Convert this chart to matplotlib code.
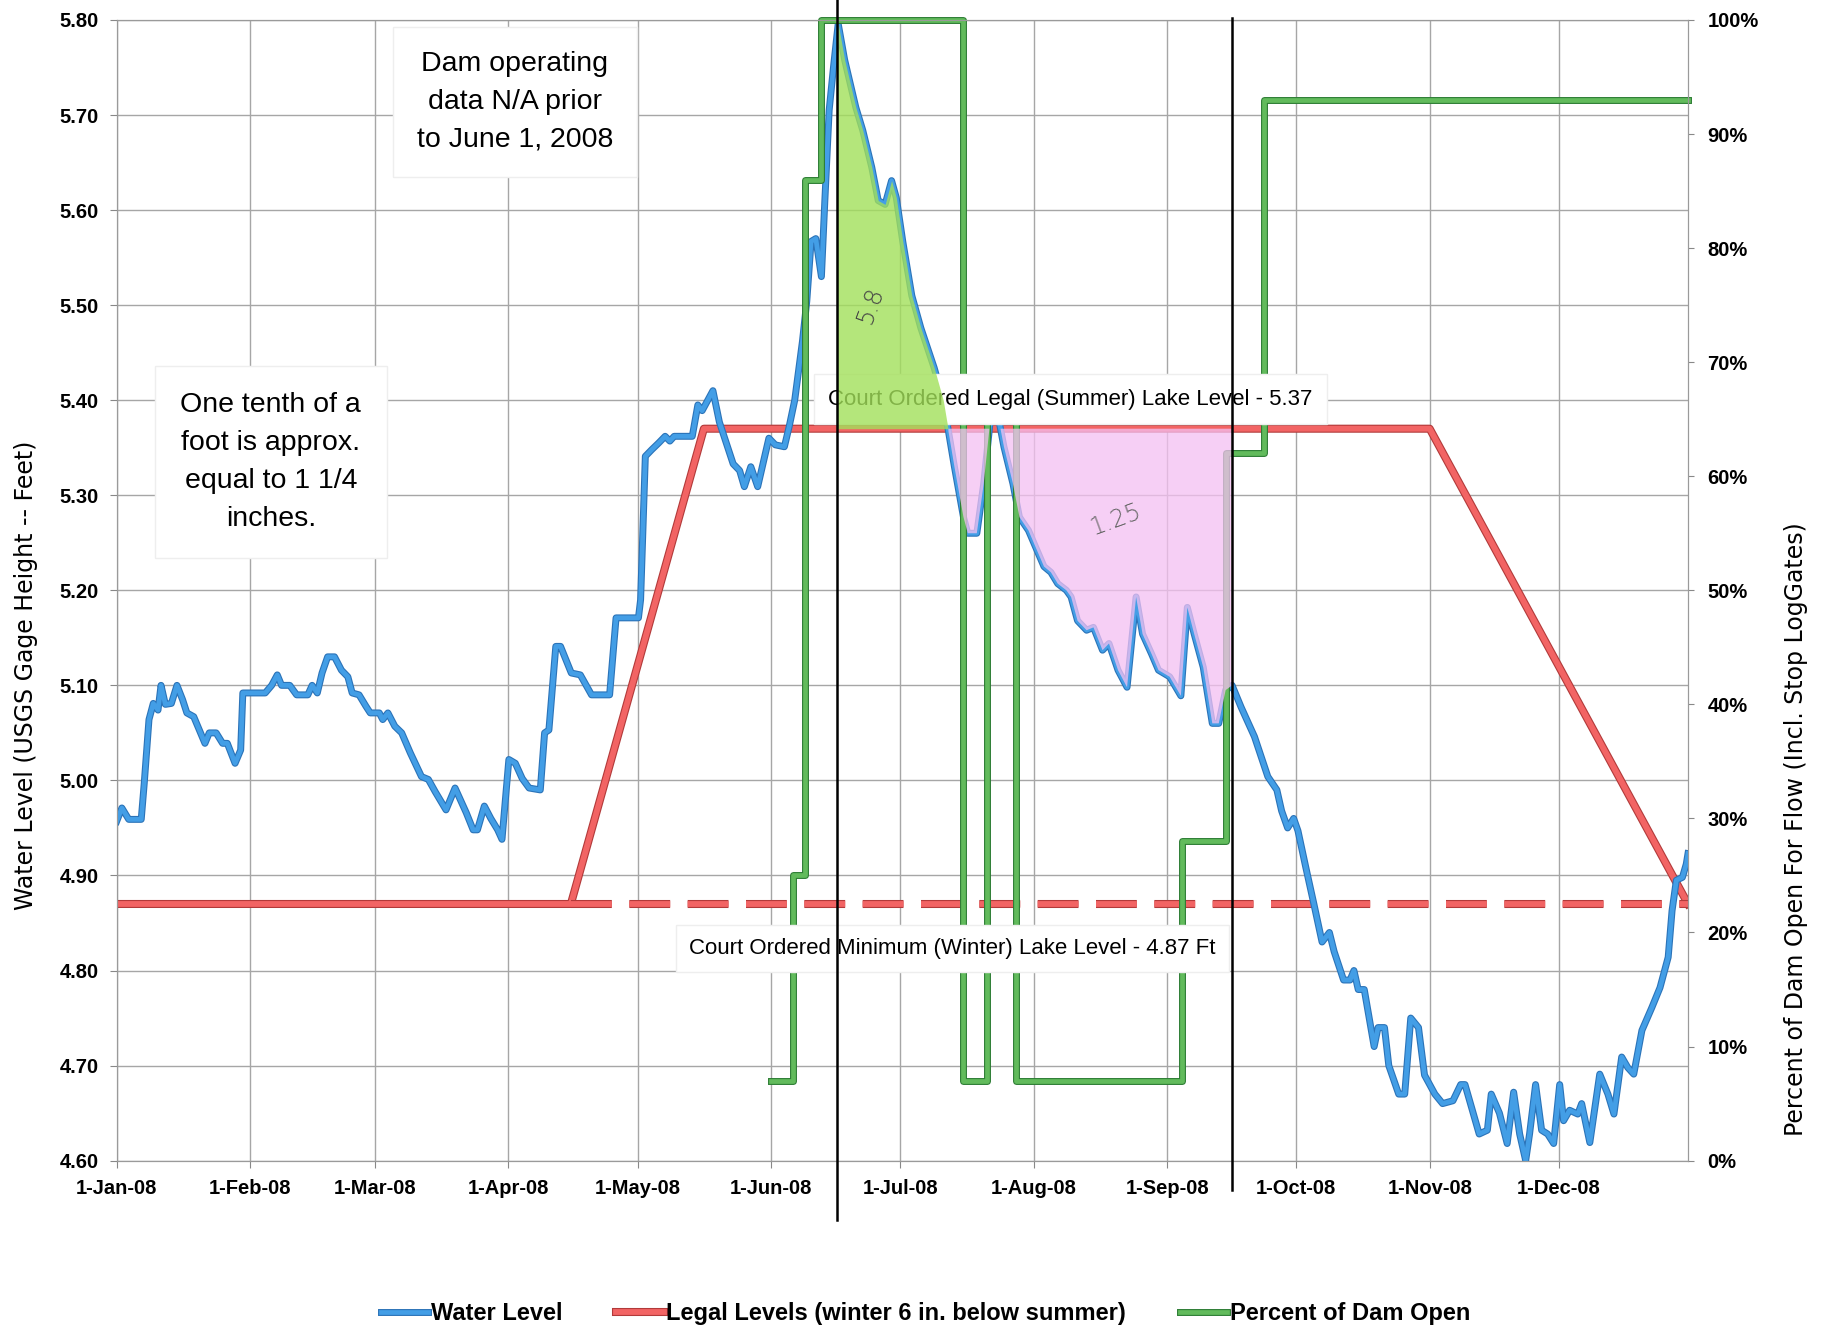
import numpy as np
import pandas as pd
import matplotlib
matplotlib.use('Agg')
import matplotlib.pyplot as plt
import matplotlib.dates as mdates
import matplotlib.patheffects as pe
from matplotlib.font_manager import FontProperties

# lake level 2008, day of year (0 = 1-Jan) and USGS gage height in feet
level_day = [0, 1.2, 2.8, 5.7, 6.4, 7.5, 8.5, 9.6, 10.3, 11.3, 12.7, 14.0, 15.3, 16.3, 17.9,
             20.5, 21.5, 23.1, 24.6, 25.7, 27.5, 28.8, 29.3, 34.5, 36.0, 37.3, 38.3, 40.2,
             41.8, 44.4, 45.4, 46.6, 47.7, 49.0, 50.6, 52.2, 53.7, 54.7, 56.3, 57.9, 58.9,
             61.0, 61.8, 63.0, 64.6, 66.2, 68.2, 70.8, 72.4, 74.0, 76.5, 78.6, 81.2, 82.8,
             83.8, 85.4, 86.9, 88.5, 89.5, 91.1, 92.6, 94.2, 95.8, 98.4, 99.4, 100.4, 102.0,
             103.1, 105.6, 107.7, 110.3, 114.5, 116.0, 121.2, 121.7, 122.8, 124.3, 125.9,
             127.4, 128.5, 129.5, 133.7, 135.0, 136.0, 138.5, 140.0, 143.2, 144.7, 145.8,
             147.3, 148.9, 151.5, 153.0, 155.1, 156.2, 157.5, 159.3, 160.3, 161.3, 162.4,
             163.7, 164.5, 165.5, 166.5, 167.6, 169.1, 171.7, 173.3, 175.4, 176.9, 178.5,
             180.0, 181.1, 182.6, 184.7, 186.8, 189.9, 192.0, 193.3, 194.6, 196.7, 197.7,
             199.8, 201.4, 203.0, 204.5, 206.1, 208.2, 209.7, 211.8, 213.4, 215.4, 217.0,
             218.6, 220.6, 221.7, 223.2, 225.3, 226.9, 229.0, 230.5, 232.6, 234.7, 236.8,
             238.3, 240.4, 242.0, 244.6, 247.2, 248.7, 250.3, 252.4, 254.5, 256.0, 257.6,
             259.1, 261.2, 264.3, 267.4, 269.5, 270.6, 272.0, 273.4, 274.4, 276.2, 278.1,
             280.0, 281.7, 282.8, 285.0, 286.5, 287.4, 288.4, 289.8, 292.1, 293.0, 294.5,
             295.5, 297.8, 299.2, 300.6, 302.4, 303.8, 306.2, 308.0, 310.4, 312.2, 313.2,
             316.5, 318.4, 319.3, 321.2, 323.0, 324.5, 325.9, 327.3, 328.2, 329.6, 331.0,
             332.4, 333.8, 335.2, 336.1, 337.5, 339.4, 340.3, 342.2, 344.5, 346.4, 347.8,
             349.6, 351.0, 352.4, 354.3, 356.6, 358.5, 360.4, 361.3, 362.3, 363.7, 364.6, 365.0]
level_ft = [4.957, 4.971, 4.959, 4.959, 4.997, 5.064, 5.081, 5.074, 5.100, 5.080, 5.081, 5.100,
            5.085, 5.071, 5.067, 5.039, 5.050, 5.050, 5.039, 5.039, 5.018, 5.032, 5.092, 5.092,
            5.100, 5.111, 5.100, 5.100, 5.090, 5.090, 5.100, 5.092, 5.113, 5.130, 5.130, 5.116,
            5.109, 5.092, 5.090, 5.078, 5.071, 5.071, 5.064, 5.071, 5.057, 5.050, 5.029, 5.004,
            5.001, 4.988, 4.969, 4.992, 4.966, 4.948, 4.948, 4.973, 4.960, 4.948, 4.938, 5.022,
            5.018, 5.002, 4.992, 4.990, 5.050, 5.053, 5.141, 5.141, 5.113, 5.111, 5.090, 5.090,
            5.171, 5.171, 5.190, 5.341, 5.348, 5.355, 5.362, 5.357, 5.362, 5.362, 5.395, 5.389,
            5.410, 5.377, 5.333, 5.326, 5.309, 5.330, 5.309, 5.360, 5.353, 5.351, 5.372, 5.400,
            5.462, 5.504, 5.567, 5.570, 5.530, 5.610, 5.705, 5.750, 5.796, 5.758, 5.708, 5.684,
            5.645, 5.610, 5.606, 5.631, 5.613, 5.567, 5.510, 5.476, 5.434, 5.400, 5.365, 5.330,
            5.277, 5.260, 5.260, 5.312, 5.382, 5.389, 5.351, 5.312, 5.277, 5.263, 5.246, 5.225,
            5.219, 5.207, 5.200, 5.193, 5.168, 5.158, 5.161, 5.137, 5.144, 5.116, 5.098, 5.193,
            5.154, 5.133, 5.116, 5.109, 5.089, 5.182, 5.154, 5.119, 5.060, 5.060, 5.095, 5.100,
            5.077, 5.046, 5.004, 4.990, 4.968, 4.950, 4.960, 4.947, 4.909, 4.870, 4.830, 4.840,
            4.820, 4.790, 4.790, 4.800, 4.780, 4.780, 4.720, 4.740, 4.740, 4.700, 4.670, 4.670,
            4.750, 4.740, 4.690, 4.670, 4.660, 4.663, 4.680, 4.680, 4.628, 4.632, 4.670, 4.650,
            4.618, 4.672, 4.628, 4.600, 4.628, 4.680, 4.632, 4.628, 4.618, 4.680, 4.642, 4.653,
            4.649, 4.660, 4.619, 4.691, 4.670, 4.649, 4.709, 4.698, 4.691, 4.737, 4.761, 4.782,
            4.814, 4.863, 4.895, 4.898, 4.912, 4.923]

# legal levels (summer 5.37, winter 4.87)
legal_day = [0, 105.5, 136.4, 305, 365]
legal_ft = [4.87, 4.87, 5.37, 5.37, 4.87]
winter_day = [105.5, 365]
winter_ft = [4.87, 4.87]

# percent of dam open (no data before 1-Jun)
dam_day = [152, 157, 159.8, 163.7, 196.7, 202.1, 208.8, 247.5, 257.8, 266.5, 365]
dam_pct = [7, 25, 86, 100, 7, 66, 7, 28, 62, 93, 93]

# hand drawn marks on the print-out
marker_day = [167.3, 259.0]
marker_top = [5.822, 5.802]
marker_bot = [4.538, 4.569]
summer_level = 5.37

month_labels = ['1-Jan-08', '1-Feb-08', '1-Mar-08', '1-Apr-08', '1-May-08', '1-Jun-08',
                '1-Jul-08', '1-Aug-08', '1-Sep-08', '1-Oct-08', '1-Nov-08', '1-Dec-08']
pct_labels = ['0%', '10%', '20%', '30%', '40%', '50%', '60%', '70%', '80%', '90%', '100%']

start = pd.Timestamp('2008-01-01')


def to_date(days):
    return start + pd.to_timedelta(np.asarray(days, dtype=float), unit='D')


narrow = ['Liberation Sans Narrow', 'Liberation Sans', 'DejaVu Sans']
tick_font = FontProperties(family=narrow, weight='bold', size=14.5)
box_font = FontProperties(family=narrow, size=16)
note_font = FontProperties(family=narrow, size=20.5)

fig = plt.figure(figsize=(18.29, 13.31), dpi=100)
ax = fig.add_axes([0.0638, 0.128, 0.8591, 0.857])
ax2 = ax.twinx()

blue, blue_edge = '#439ee6', '#2b73b8'
red, red_edge = '#f26464', '#b23a3a'
green, green_edge = '#62bb5c', '#2d7d34'


def edged(c, w):
    return [pe.Stroke(linewidth=w + 1.6, foreground=c), pe.Normal()]


l1, = ax.plot(to_date(level_day), level_ft, color=blue, lw=3.4,
              path_effects=edged(blue_edge, 3.4), zorder=3, label='Water Level')
l2, = ax.plot(to_date(legal_day), legal_ft, color=red, lw=4.2,
              path_effects=edged(red_edge, 4.2), zorder=2,
              label='Legal Levels (winter 6 in. below summer)')
ax.plot(to_date(winter_day), winter_ft, color=red, lw=4.2, dashes=(7, 3),
        path_effects=edged(red_edge, 4.2), zorder=2)

l3, = ax2.plot(to_date(dam_day), dam_pct, color=green, lw=3.4, drawstyle='steps-post',
               path_effects=edged(green_edge, 3.4), zorder=2, clip_on=False,
               label='Percent of Dam Open')

# axes
ax.set_xlim(start, pd.Timestamp('2008-12-31'))
ax.set_ylim(4.6, 5.8)
ax2.set_ylim(0, 100)
ax.set_xticks(to_date([0, 31, 60, 91, 121, 152, 182, 213, 244, 274, 305, 335]))
ax.set_xticklabels(month_labels, fontproperties=tick_font)
yt = np.round(np.arange(4.6, 5.801, 0.1), 2)
ax.set_yticks(yt)
ax.set_yticklabels(['%.2f' % v for v in yt], fontproperties=tick_font)
ax2.set_yticks(np.arange(0, 101, 10))
ax2.set_yticklabels(pct_labels, fontproperties=tick_font)
ax.grid(True, color='#a6a6a6', lw=1.0)
ax.set_axisbelow(True)
ax.tick_params(axis='both', direction='out', length=5, color='#888888', pad=8)
ax2.tick_params(axis='y', direction='out', length=4, color='#888888', pad=10)
for a in (ax, ax2):
    for s in a.spines.values():
        s.set_color('#9a9a9a')

fig.text(0.014, 0.4926, 'Water Level (USGS Gage Height -- Feet)', rotation=90,
         ha='center', va='center', fontsize=17, family='DejaVu Sans')
fig.text(0.982, 0.377, 'Percent of Dam Open For Flow (Incl. Stop LogGates)', rotation=90,
         ha='center', va='center', fontsize=17, family='DejaVu Sans')

# text boxes (drawn on the top axes so they cover the dam line, as in the print)
T = ax.transData
ax2.text(mdates.date2num(to_date([92.5])[0]), 5.714, 'Dam operating\ndata N/A prior\nto June 1, 2008',
         transform=T, ha='center', va='center', fontproperties=note_font, linespacing=1.6,
         bbox=dict(boxstyle='square,pad=0.85', fc='white', ec='#eeeeee', lw=1), zorder=3)
ax2.text(mdates.date2num(to_date([35.8])[0]), 5.335,
         'One tenth of a\nfoot is approx.\nequal to 1 1/4\ninches.',
         transform=T, ha='center', va='center', fontproperties=note_font, linespacing=1.6,
         bbox=dict(boxstyle='square,pad=0.9', fc='white', ec='#eeeeee', lw=1), zorder=3)
ax2.text(mdates.date2num(to_date([221.6])[0]), 5.401, 'Court Ordered Legal (Summer) Lake Level - 5.37',
         transform=T, ha='center', va='center', fontproperties=box_font,
         bbox=dict(boxstyle='square,pad=0.65', fc='white', ec='#eeeeee', lw=1), zorder=3)
ax2.text(mdates.date2num(to_date([194.2])[0]), 4.823,
         'Court Ordered Minimum (Winter) Lake Level - 4.87 Ft',
         transform=T, ha='center', va='center', fontproperties=box_font,
         bbox=dict(boxstyle='square,pad=0.6', fc='white', ec='#eeeeee', lw=1), zorder=3)

# highlighter areas above / below the summer level
fine_day = np.arange(0, 365.01, 0.1)
fine_ft = np.interp(fine_day, level_day, level_ft)
fine_x = to_date(fine_day)
above = (fine_day >= marker_day[0]) & (fine_day <= 195) & (fine_ft >= summer_level)
below = (fine_day >= 190) & (fine_day <= marker_day[1]) & (fine_ft <= summer_level)
ax2.fill_between(fine_x, fine_ft, summer_level, where=above, transform=T,
                 color='#a2e05a', alpha=0.8, lw=0, zorder=4)
ax2.fill_between(fine_x, fine_ft, summer_level, where=below, transform=T,
                 color='#f4c0f2', alpha=0.75, lw=0, zorder=4)

# hand writing and the two pen lines
ax2.text(mdates.date2num(to_date([175])[0]), 5.50, '5.8', transform=T, rotation=70,
         fontsize=17, color='#444444', family='DejaVu Sans', fontweight='light',
         ha='center', va='center', zorder=6)
ax2.text(mdates.date2num(to_date([232])[0]), 5.275, '1.25', transform=T, rotation=20,
         fontsize=17, color='#666666', family='DejaVu Sans', fontweight='light',
         ha='center', va='center', zorder=6)
for d, y0, y1 in zip(marker_day, marker_top, marker_bot):
    ax2.plot(to_date([d, d]), [y0, y1], transform=T, color='black', lw=1.8,
             clip_on=False, zorder=7)
ax2.set_ylim(0, 100)

fig.legend(handles=[l1, l2, l3], loc='center', bbox_to_anchor=(0.506, 0.013), ncol=3,
           frameon=False, prop=FontProperties(family=narrow, weight='bold', size=17),
           handlelength=2.0, handletextpad=0.1, columnspacing=2.3)

fig.savefig('out.png', dpi=100, facecolor='white')
